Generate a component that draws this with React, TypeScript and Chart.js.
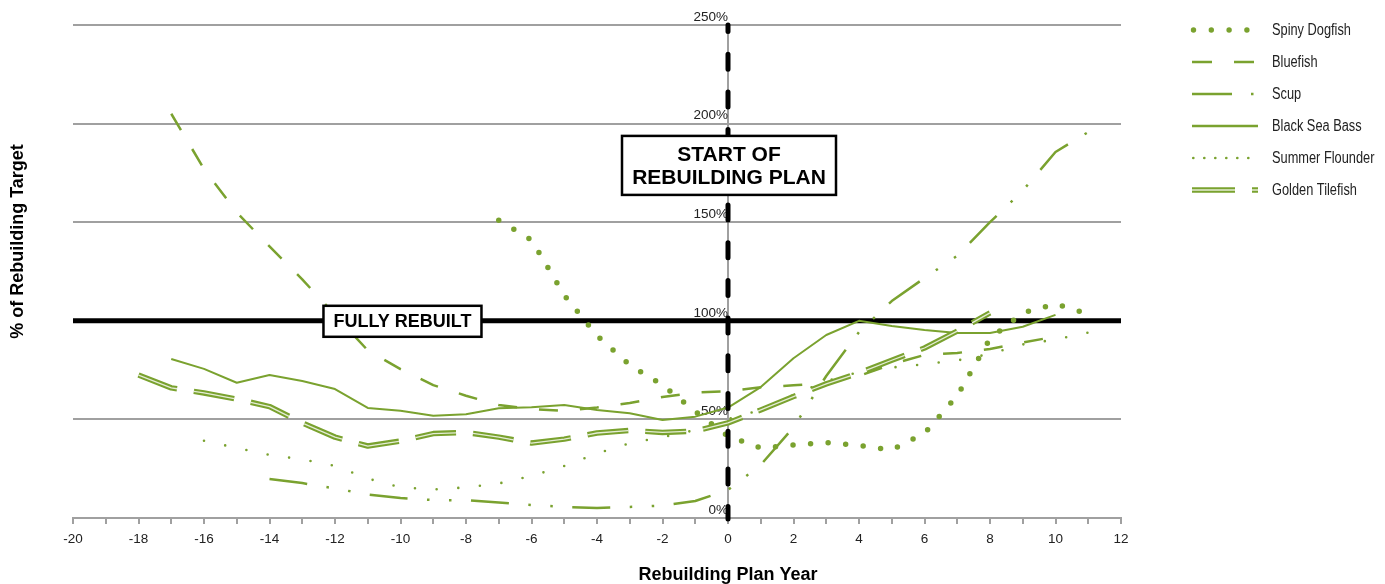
import React, { useEffect, useRef } from 'react';
import { Chart, registerables } from 'chart.js';

Chart.register(...registerables);

// ---------------- DATA ----------------
const seriesNames = ['Spiny Dogfish', 'Bluefish', 'Scup', 'Black Sea Bass', 'Summer Flounder', 'Golden Tilefish'];

const dogfishYears = [-7, -6, -5, -4, -3, -2, -1, 0, 1, 2, 3, 4, 5, 6, 7, 8, 9, 10, 11];
const dogfishValues = [151, 141, 113, 92.5, 77.6, 67.4, 54, 41.5, 35.5, 37, 38.3, 36.8, 34.5, 43, 62, 91, 104, 108.5, 103.5];

const bluefishYears = [-17, -16, -15, -14, -13, -12, -11, -10, -9, -8, -7, -6, -5, -4, -3, -2, -1, 0, 1, 2, 3, 4, 5, 6, 7, 8, 9, 10];
const bluefishValues = [205, 177, 155, 137.7, 121, 103, 85, 75.5, 67.4, 62, 57.3, 55.3, 54.3, 56, 58.3, 61.4, 63.6, 64.3, 66.3, 67.3, 68.5, 72, 78, 82.7, 83.7, 85.7, 89, 92];

const scupYears = [-14, -13, -12, -11, -10, -9, -8, -7, -6, -5, -4, -3, -2, -1, 0, 1, 2, 3, 4, 5, 6, 7, 8, 9, 10, 11];
const scupValues = [19.8, 17.7, 15, 11.9, 10.1, 9.1, 9, 7.9, 6.6, 5.6, 5.1, 5.6, 6.3, 8.6, 14.2, 27, 46, 72, 94.3, 110, 121.7, 133, 150, 166, 185.6, 195.7];

const seaBassYears = [-17, -16, -15, -14, -13, -12, -11, -10, -9, -8, -7, -6, -5, -4, -3, -2, -1, 0, 1, 2, 3, 4, 5, 6, 7, 8, 9, 10];
const seaBassValues = [80.6, 75.6, 68.6, 72.5, 69.5, 65.4, 55.8, 54.4, 51.9, 52.6, 55.6, 56.1, 57.3, 54.8, 53.1, 49.7, 51.4, 56, 66.4, 81, 92.8, 100, 97.4, 95.3, 93.8, 93.8, 97, 103];

const flounderYears = [-16, -15, -14, -13, -12, -11, -10, -9, -8, -7, -6, -5, -4, -3, -2, -1, 0, 1, 2, 3, 4, 5, 6, 7, 8, 9, 10, 11];
const flounderValues = [39.2, 35.5, 32, 29.7, 26.4, 20, 15.5, 14.5, 15.5, 17.5, 21.3, 26.4, 32.7, 37.9, 41, 44.6, 50.2, 54.8, 62.4, 69.5, 74, 76.3, 78, 79.9, 83.2, 88, 90.5, 94];

const tilefishYears = [-18, -17, -16, -15, -14, -13, -12, -11, -10, -9, -8, -7, -6, -5, -4, -3, -2, -1, 0, 1, 2, 3, 4, 5, 6, 7, 8];
const tilefishValues = [72.5, 66, 63.4, 60.3, 56.5, 48.2, 41, 36.5, 39, 42.8, 43.4, 41, 38, 40, 43.1, 44.4, 43.4, 44.1, 48.2, 54.8, 61.6, 68, 73.5, 80, 86.2, 94.8, 104];

const xMin = -20;
const xMax = 12;
const yMin = 0;
const yMax = 250;
const yStep = 50;
const fullyRebuiltLevel = 100;
const planStartYear = 0;
const fullyRebuiltLabel = ['FULLY REBUILT'];
const planStartLabel = ['START OF', 'REBUILDING PLAN'];
const xTitle = 'Rebuilding Plan Year';
const yTitle = '% of Rebuilding Target';

// ---------------- STYLE ----------------
const GREEN = '#7aa22f';
const GRID = '#a0a0a0';
const TEXT = '#222';
const SANS = "'Liberation Sans', Arial, 'DejaVu Sans', sans-serif";

const toPoints = (xs: number[], ys: number[]) => xs.map((x, i) => ({ x, y: ys[i] }));

function annotationPlugin() {
  const box = (ctx: CanvasRenderingContext2D, cx: number, cy: number, w: number, h: number, lines: string[], size: number, lh: number) => {
    ctx.save();
    ctx.fillStyle = '#fff';
    ctx.strokeStyle = '#000';
    ctx.lineWidth = 2.5;
    ctx.fillRect(cx - w / 2, cy - h / 2, w, h);
    ctx.strokeRect(cx - w / 2, cy - h / 2, w, h);
    ctx.fillStyle = '#000';
    ctx.font = `bold ${size}px ${SANS}`;
    ctx.textAlign = 'center';
    ctx.textBaseline = 'middle';
    const start = cy - ((lines.length - 1) * lh) / 2;
    lines.forEach((t, i) => ctx.fillText(t, cx, start + i * lh + 1));
    ctx.restore();
  };

  const swatch = (ctx: CanvasRenderingContext2D, idx: number, x0: number, y: number) => {
    ctx.save();
    ctx.strokeStyle = GREEN;
    ctx.fillStyle = GREEN;
    const line = (w: number, dash: number[], len: number, cap: CanvasLineCap = 'butt') => {
      ctx.lineWidth = w;
      ctx.lineCap = cap;
      ctx.setLineDash(dash);
      ctx.beginPath();
      ctx.moveTo(x0, y);
      ctx.lineTo(x0 + len, y);
      ctx.stroke();
    };
    if (idx === 0) {
      for (let i = 0; i < 4; i++) { ctx.beginPath(); ctx.arc(x0 + 1.5 + 17.8 * i, y, 2.7, 0, Math.PI * 2); ctx.fill(); }
    } else if (idx === 1) {
      line(2.6, [20, 22], 62);
    } else if (idx === 2) {
      line(2.6, [40, 19, 2.5, 30], 62);
    } else if (idx === 3) {
      line(2.4, [], 66);
    } else if (idx === 4) {
      for (let i = 0; i < 6; i++) { ctx.beginPath(); ctx.arc(x0 + 1.3 + 11 * i, y, 1.35, 0, Math.PI * 2); ctx.fill(); }
    } else {
      line(5.5, [43, 17], 66);
      ctx.strokeStyle = 'rgba(255,255,255,0.8)';
      line(1.3, [43, 17], 66);
    }
    ctx.restore();
  };

  return {
    id: 'annotations',
    beforeDatasetsDraw(chart: any) {
      const { ctx, chartArea, scales } = chart;
      const py = scales.y.getPixelForValue(fullyRebuiltLevel);
      ctx.save();
      ctx.strokeStyle = '#000';
      ctx.lineWidth = 5;
      ctx.beginPath();
      ctx.moveTo(chartArea.left, py);
      ctx.lineTo(chartArea.right, py);
      ctx.stroke();
      ctx.restore();
    },
    afterDatasetsDraw(chart: any) {
      const { ctx, chartArea, scales } = chart;
      const px = scales.x.getPixelForValue(planStartYear);
      ctx.save();
      ctx.strokeStyle = '#000';
      ctx.lineWidth = 5;
      ctx.lineCap = 'round';
      ctx.setLineDash([15, 22.7]);
      ctx.lineDashOffset = 8.5;
      ctx.beginPath();
      ctx.moveTo(px, chartArea.top);
      ctx.lineTo(px, chartArea.bottom + 1);
      ctx.stroke();
      ctx.restore();

      box(ctx, scales.x.getPixelForValue(-9.94), scales.y.getPixelForValue(fullyRebuiltLevel) + 0.5, 158, 31, fullyRebuiltLabel, 18, 22);
      box(ctx, px + 1, scales.y.getPixelForValue(178.8), 214, 59, planStartLabel, 21, 23);
    },
    afterDraw(chart: any) {
      const { ctx, chartArea, scales } = chart;
      ctx.save();
      // axis titles
      ctx.fillStyle = '#000';
      ctx.font = `bold 18px ${SANS}`;
      ctx.textAlign = 'center';
      ctx.textBaseline = 'alphabetic';
      ctx.fillText(xTitle, scales.x.getPixelForValue(planStartYear), 580);
      ctx.translate(23, (chartArea.top + chartArea.bottom) / 2 - 30);
      ctx.rotate(-Math.PI / 2);
      ctx.fillText(yTitle, 0, 0);
      ctx.restore();

      // legend (text horizontally condensed to mimic a narrow face)
      seriesNames.forEach((name, i) => {
        const y = 30 + i * 32;
        swatch(ctx, i, 1192, y);
        ctx.save();
        ctx.fillStyle = TEXT;
        ctx.font = `16px ${SANS}`;
        ctx.textAlign = 'left';
        ctx.textBaseline = 'middle';
        ctx.translate(1272, y + 1);
        ctx.scale(0.8, 1);
        ctx.fillText(name, 0, 0);
        ctx.restore();
      });
    },
  };
}

export default function App() {
  const ref = useRef<HTMLCanvasElement>(null);
  useEffect(() => {
    document.body.style.margin = '0';
    const base = { pointRadius: 0, pointHoverRadius: 0, tension: 0, fill: false, borderColor: GREEN, borderJoinStyle: 'round' as const };
    const chart = new Chart(ref.current as HTMLCanvasElement, {
      type: 'line',
      data: {
        datasets: [
          { ...base, label: 'tile-inner', data: toPoints(tilefishYears, tilefishValues), borderColor: 'rgba(255,255,255,0.8)', borderWidth: 1.3, borderDash: [41, 17], borderCapStyle: 'butt', order: 0 },
          { ...base, label: seriesNames[5], data: toPoints(tilefishYears, tilefishValues), borderWidth: 5.5, borderDash: [41, 17], borderCapStyle: 'butt', order: 1 },
          { ...base, label: seriesNames[0], data: toPoints(dogfishYears, dogfishValues), borderWidth: 5.5, borderDash: [0, 17.6], borderCapStyle: 'round', order: 2 },
          { ...base, label: seriesNames[1], data: toPoints(bluefishYears, bluefishValues), borderWidth: 2.5, borderDash: [19, 22], borderCapStyle: 'butt', order: 3 },
          { ...base, label: seriesNames[2], data: toPoints(scupYears, scupValues), borderWidth: 2.5, borderDash: [38, 19.5, 2.5, 19.5, 2.5, 19.5], borderCapStyle: 'butt', order: 4 },
          { ...base, label: seriesNames[3], data: toPoints(seaBassYears, seaBassValues), borderWidth: 2, borderDash: [], order: 5 },
          { ...base, label: seriesNames[4], data: toPoints(flounderYears, flounderValues), borderWidth: 2.6, borderDash: [0, 21.7], borderCapStyle: 'round', order: 6 },
        ],
      },
      options: {
        responsive: false,
        animation: false,
        devicePixelRatio: 1,
        layout: { padding: { left: 73, right: 264, top: 25, bottom: 0 } },
        plugins: { legend: { display: false }, tooltip: { enabled: false } },
        scales: {
          x: {
            type: 'linear',
            min: xMin,
            max: xMax,
            afterFit: (s: any) => { s.height = 66; },
            ticks: {
              stepSize: 1,
              autoSkip: false,
              maxRotation: 0,
              padding: 7,
              color: TEXT,
              font: { family: SANS, size: 13.5 },
              callback: (v: any) => (Number(v) % 2 === 0 ? String(v) : ''),
            },
            grid: { drawOnChartArea: false, drawTicks: true, tickLength: 6, color: GRID, lineWidth: 2 },
            border: { display: true, color: GRID, width: 2 },
          },
          y: {
            type: 'linear',
            position: { x: planStartYear } as any,
            min: yMin,
            max: yMax,
            ticks: {
              stepSize: yStep,
              padding: 4,
              labelOffset: -8,
              color: TEXT,
              font: { family: SANS, size: 13.5 },
              callback: (v: any) => `${v}%`,
            },
            grid: { color: GRID, lineWidth: 2, drawTicks: false },
            border: { display: true, color: GRID, width: 2 },
          },
        },
      },
      plugins: [annotationPlugin()],
    } as any);
    return () => chart.destroy();
  }, []);
  return (
    <div style={{ position: 'absolute', left: 0, top: 0, width: 1385, height: 584 }}>
      <canvas ref={ref} width={1385} height={584} style={{ display: 'block' }} />
    </div>
  );
}
